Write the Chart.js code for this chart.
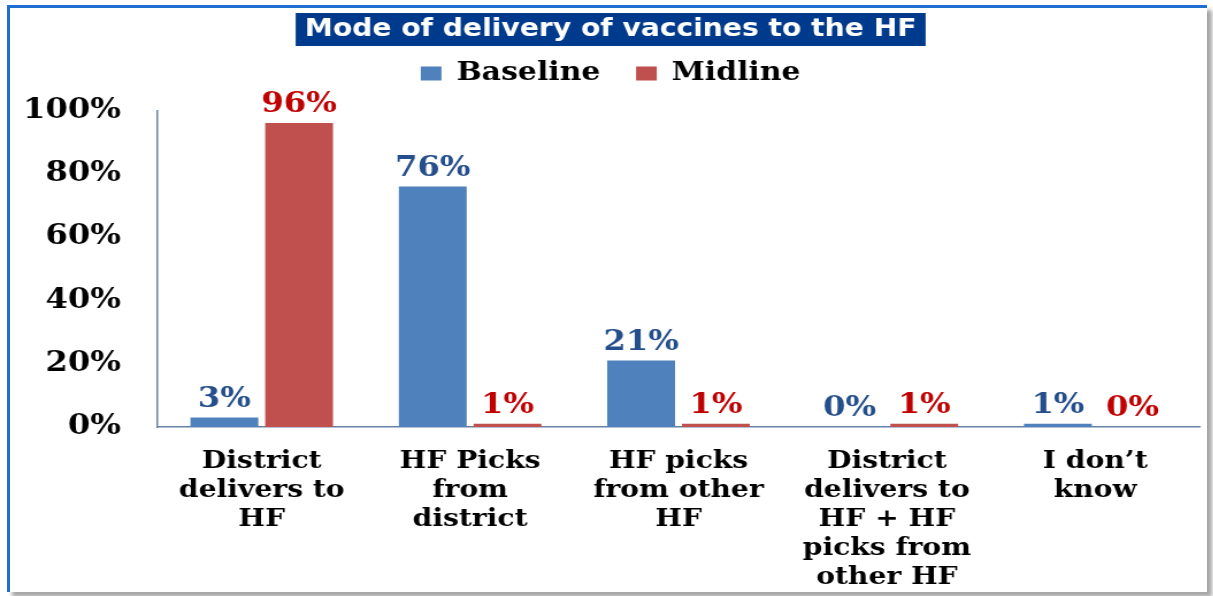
<!DOCTYPE html>
<html lang="en">
<head>
<meta charset="UTF-8">
<title>Mode of delivery of vaccines to the HF</title>
<script src="https://cdn.jsdelivr.net/npm/chart.js"></script>
<style>
    body {
        margin: 0;
        background: #fff;
        width: 1213px;
        height: 596px;
        overflow: hidden;
        position: relative;
    }

    .frame {
        position: absolute;
        left: 7px;
        top: 5px;
        width: 1197px;
        height: 584px;
        border-top: 3px solid #1F6FD1;
        border-left: 3px solid #1F6FD1;
        box-shadow: 5px 5px 4px rgba(0, 0, 0, 0.35);
        background: #fff;
    }

    /* the original picture is stretched sideways, so the chart is too */
    .wrap {
        position: absolute;
        left: 0;
        top: 0;
        width: 1055px;
        height: 596px;
        transform: scaleX(1.15);
        transform-origin: 0 0;
    }
</style>
</head>
<body>
<div class="frame"></div>
<div class="wrap"><canvas id="chart"></canvas></div>
<script>
    const titleText = "Mode of delivery of vaccines to the HF";
    const categories = [
        ["District", "delivers to", "HF"],
        ["HF Picks", "from", "district"],
        ["HF picks", "from other", "HF"],
        ["District", "delivers to", "HF + HF", "picks from", "other HF"],
        ["I don\u2019t", "know"]
    ];
    const baseline = [3, 76, 21, 0, 1];
    const midline = [96, 1, 1, 1, 0];
    const yTicks = [0, 20, 40, 60, 80, 100];

    const serif = '"DejaVu Serif", serif';

    // dark blue box behind the title
    const titleBox = {
        id: 'titleBox',
        beforeDraw(chart) {
            const t = chart.titleBlock;
            const ctx = chart.ctx;
            ctx.save();
            ctx.font = 'bold 24.5px "DejaVu Sans"';
            let w = ctx.measureText(titleText).width + 16;
            let cx = (t.left + t.right) / 2;
            ctx.fillStyle = '#003A8C';
            ctx.fillRect(cx - w / 2, 13, w, 33);
            ctx.restore();
        }
    };

    // value labels above the bars
    const valueLabels = {
        id: 'valueLabels',
        afterDatasetsDraw(chart) {
            const ctx = chart.ctx;
            const colors = ['#254F8C', '#C00000'];
            ctx.save();
            ctx.font = 'bold 28px ' + serif;
            ctx.textAlign = 'center';
            ctx.textBaseline = 'bottom';
            chart.data.datasets.forEach((ds, i) => {
                let meta = chart.getDatasetMeta(i);
                ctx.fillStyle = colors[i];
                meta.data.forEach((bar, j) => {
                    ctx.fillText(ds.data[j] + '%', bar.x, bar.y - 4);
                });
            });
            ctx.restore();
        }
    };

    // legend sits close under the title, plot starts lower
    const legendGap = {
        id: 'legendGap',
        beforeInit(chart) {
            let orig = chart.legend.fit;
            chart.legend.fit = function () {
                orig.call(this);
                this.height += 14;
            };
        }
    };

    new Chart(document.getElementById('chart'), {
        type: 'bar',
        data: {
            labels: categories,
            datasets: [{
                label: 'Baseline',
                data: baseline,
                backgroundColor: '#4F81BD',
                categoryPercentage: 0.717,
                barPercentage: 0.908
            }, {
                label: 'Midline',
                data: midline,
                backgroundColor: '#C0504D',
                categoryPercentage: 0.717,
                barPercentage: 0.908
            }]
        },
        options: {
            responsive: true,
            maintainAspectRatio: false,
            animation: false,
            layout: {padding: {top: 0, left: 19, right: 12, bottom: 9}},
            plugins: {
                title: {
                    display: true,
                    text: titleText,
                    color: '#fff',
                    font: {family: '"DejaVu Sans"', size: 24.5, weight: 'bold'},
                    padding: {top: 15, bottom: -15}
                },
                legend: {
                    position: 'top',
                    labels: {
                        color: '#000',
                        font: {family: serif, size: 26, weight: 'bold'},
                        boxWidth: 18,
                        boxHeight: 14,
                        padding: 31
                    }
                },
                tooltip: {enabled: false}
            },
            scales: {
                x: {
                    grid: {display: false},
                    border: {display: true, color: '#6782A6', width: 1.5},
                    ticks: {
                        color: '#000',
                        font: {family: serif, size: 24.5, weight: 'bold', lineHeight: 29 / 24.5},
                        padding: 12,
                        maxRotation: 0,
                        autoSkip: false
                    },
                    afterFit(scale) {
                        scale.height = 160;
                    }
                },
                y: {
                    min: 0,
                    max: 100,
                    grid: {display: false, drawTicks: false},
                    border: {display: true, color: '#6782A6', width: 1.5},
                    ticks: {
                        stepSize: 20,
                        color: '#000',
                        font: {family: serif, size: 28, weight: 'bold'},
                        padding: 32,
                        callback: (v) => yTicks.includes(v) ? v + '%' : ''
                    },
                    afterFit(scale) {
                        scale.width = 118;
                    }
                }
            }
        },
        plugins: [titleBox, valueLabels, legendGap]
    });
</script>
</body>
</html>
